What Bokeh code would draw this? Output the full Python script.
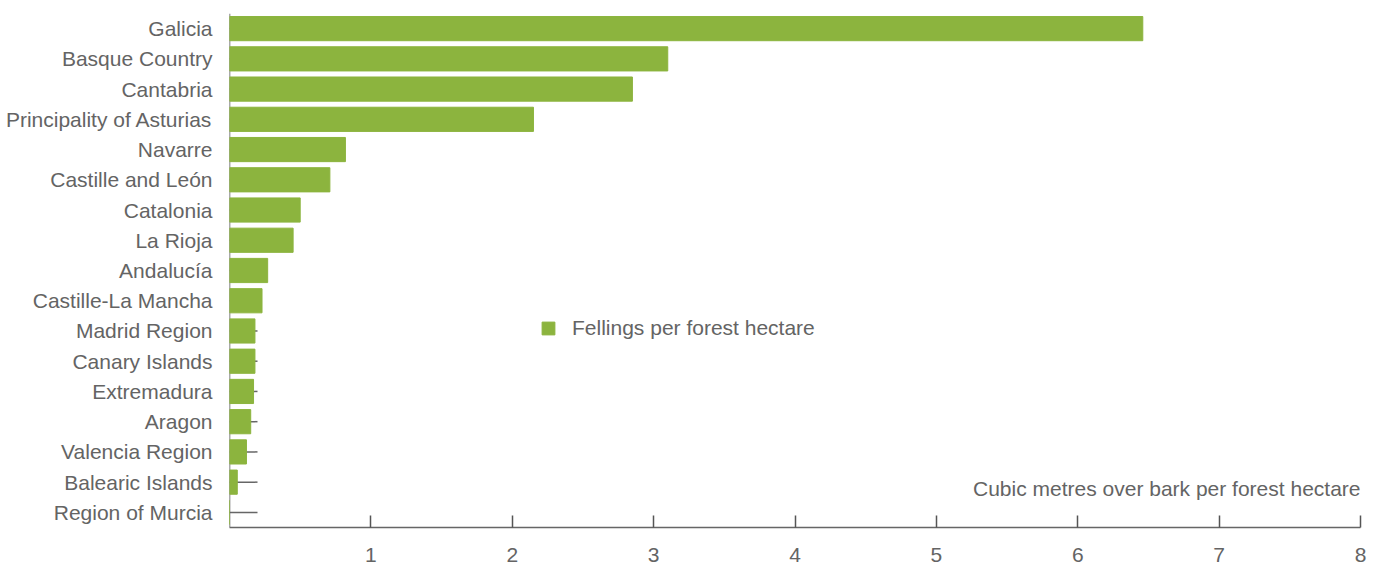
from bokeh.plotting import figure
from bokeh.models import FactorRange, Range1d, FixedTicker, Label, Legend, LegendItem, Span
from bokeh.embed import file_html
from bokeh.resources import INLINE

regions = ["Galicia", "Basque Country", "Cantabria", "Principality of Asturias",
           "Navarre", "Castille and León", "Catalonia", "La Rioja", "Andalucía",
           "Castille-La Mancha", "Madrid Region", "Canary Islands", "Extremadura",
           "Aragon", "Valencia Region", "Balearic Islands", "Region of Murcia"]
fellings = [6.46, 3.10, 2.85, 2.15, 0.82, 0.71, 0.50, 0.45, 0.27, 0.23,
            0.18, 0.18, 0.17, 0.15, 0.12, 0.055, 0.0]
x_ticks = [1, 2, 3, 4, 5, 6, 7, 8]

FONT = "Liberation Sans"
TXT = "#646464"
GREEN = "#8CB43E"
FS = "21px"

p = figure(y_range=FactorRange(factors=list(reversed(regions))),
           x_range=Range1d(0, 8),
           width=1370, height=565, output_backend="svg", toolbar_location=None,
           min_border_left=229, min_border_top=13, min_border_right=10, min_border_bottom=38)
p.outline_line_color = None
p.grid.visible = False

# y-axis line and inward ticks sit beneath the bars
p.add_layout(Span(location=0, dimension="height", line_color="#555555",
                  line_width=1.5, level="underlay"))
p.ray(x=0, y=regions, length=28, length_units="screen", angle=0,
      line_color="#666666", line_width=1.5)

bars = p.hbar(y=regions, right=fellings, left=0, height=0.8, color=GREEN)

yax = p.yaxis[0]
yax.axis_line_color = None
yax.major_tick_line_color = None
yax.major_tick_out = 0
yax.major_tick_in = 0
yax.major_label_standoff = 17
yax.major_label_text_font = FONT
yax.major_label_text_font_size = FS
yax.major_label_text_color = TXT

xax = p.xaxis[0]
xax.ticker = FixedTicker(ticks=x_ticks)
xax.axis_line_color = "#666666"
xax.axis_line_width = 1.5
xax.major_tick_in = 12
xax.major_tick_out = 0
xax.major_tick_line_color = "#555555"
xax.major_tick_line_width = 1.5
xax.minor_tick_line_color = None
xax.major_label_standoff = 20
xax.major_label_text_font = FONT
xax.major_label_text_font_size = FS
xax.major_label_text_color = TXT

p.add_layout(Label(x=8, y=1.29, text="Cubic metres over bark per forest hectare",
                   text_align="right", text_baseline="middle", text_font=FONT,
                   text_font_size=FS, text_color=TXT))

legend = Legend(items=[LegendItem(label="Fellings per forest hectare", renderers=[bars])],
                location=(311, 187), glyph_width=16, glyph_height=16, label_standoff=16,
                padding=0, margin=0, border_line_alpha=0, background_fill_alpha=0,
                label_text_font=FONT, label_text_font_size=FS, label_text_color=TXT)
p.add_layout(legend, "center")

open("out.html", "w").write(file_html(p, INLINE))
